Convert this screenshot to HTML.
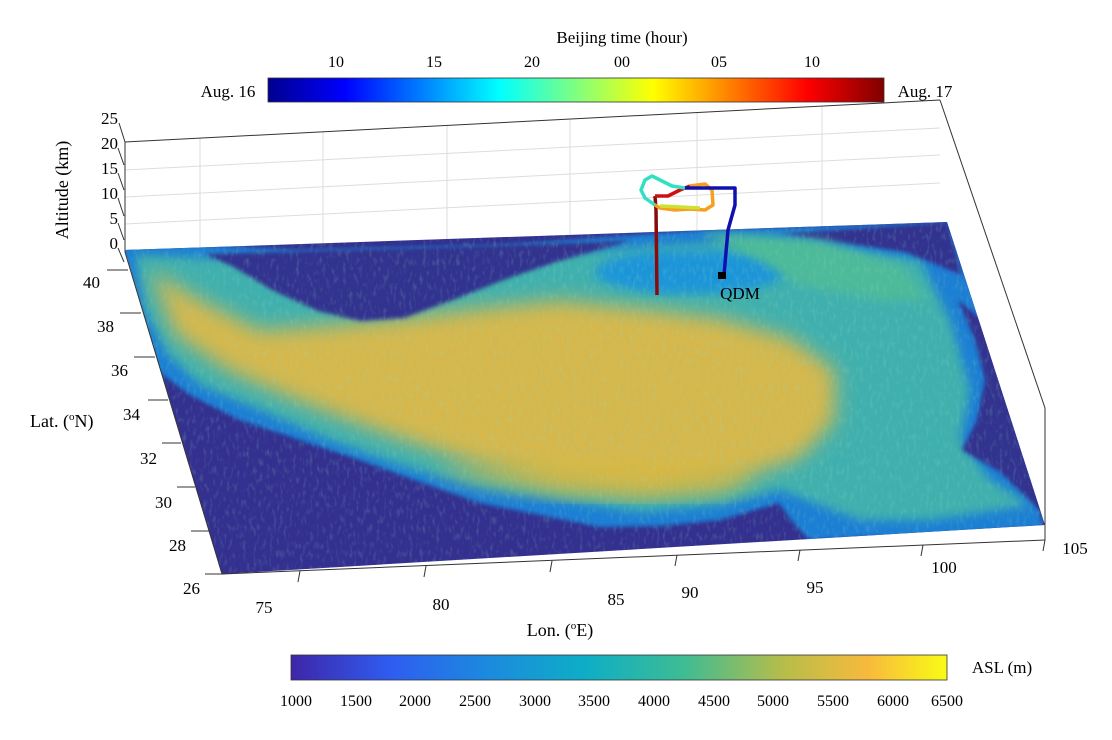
<!DOCTYPE html>
<html><head><meta charset="utf-8"><style>
body{margin:0;background:#fff;}
svg{display:block;font-family:"Liberation Serif",serif;}
</style></head><body>
<svg width="1112" height="740" viewBox="0 0 1112 740">
<defs>
<linearGradient id="jet" x1="0" x2="1">
<stop offset="0" stop-color="#00008f"/><stop offset="0.125" stop-color="#0000ff"/>
<stop offset="0.375" stop-color="#00ffff"/><stop offset="0.625" stop-color="#ffff00"/>
<stop offset="0.875" stop-color="#ff0000"/><stop offset="1" stop-color="#800000"/>
</linearGradient>
<linearGradient id="parula" x1="0" x2="1">
<stop offset="0" stop-color="#3e26a8"/><stop offset="0.15" stop-color="#2f5cf0"/>
<stop offset="0.3" stop-color="#1c8ade"/><stop offset="0.45" stop-color="#0eaec6"/>
<stop offset="0.6" stop-color="#3fbc93"/><stop offset="0.75" stop-color="#b6bd4a"/>
<stop offset="0.88" stop-color="#f8ba3d"/><stop offset="1" stop-color="#f9fb15"/>
</linearGradient>
<filter id="b0"><feGaussianBlur stdDeviation="2"/></filter>
<filter id="b1"><feGaussianBlur stdDeviation="5"/></filter>
<filter id="b2"><feGaussianBlur stdDeviation="10"/></filter>
<filter id="n"><feTurbulence type="fractalNoise" baseFrequency="0.3 0.12" numOctaves="2" result="t"/><feColorMatrix in="t" type="matrix" values="0 0 0 0 0.35  0 0 0 0 0.72  0 0 0 0 0.55  0 0 0 0.9 -0.45"/><feComposite in2="SourceGraphic" operator="in"/></filter>
<clipPath id="fl"><polygon points="125,250 947,222 1045,525 222,574"/></clipPath>
</defs>

<!-- top colorbar -->
<text x="622" y="43" font-size="17" text-anchor="middle">Beijing time (hour)</text>
<g font-size="16" text-anchor="middle">
<text x="336" y="67">10</text><text x="434" y="67">15</text><text x="532" y="67">20</text>
<text x="622" y="67">00</text><text x="719" y="67">05</text><text x="812" y="67">10</text></g>
<rect x="268" y="78" width="616" height="24" fill="url(#jet)" stroke="#333" stroke-width="0.8"/>
<text x="228" y="97" font-size="17" text-anchor="middle">Aug. 16</text>
<text x="925" y="97" font-size="17" text-anchor="middle">Aug. 17</text>

<!-- back wall grid -->
<g stroke="#ddd" stroke-width="1">
<line x1="125" y1="170" x2="940" y2="128"/><line x1="125" y1="197" x2="940" y2="155"/>
<line x1="125" y1="224" x2="940" y2="183"/>
<line x1="200" y1="138" x2="200" y2="250"/><line x1="323" y1="132" x2="323" y2="246"/>
<line x1="447" y1="126" x2="447" y2="242"/><line x1="570" y1="120" x2="570" y2="238"/>
<line x1="697" y1="113" x2="697" y2="234"/><line x1="822" y1="106" x2="822" y2="228"/>
</g>
<g stroke="#333" stroke-width="1" fill="none">
<line x1="125" y1="142" x2="940" y2="100"/>
<line x1="125" y1="142" x2="125" y2="252"/>
<line x1="940" y1="100" x2="1045" y2="408"/>
<line x1="1045" y1="408" x2="1045" y2="540"/>
</g>
<g font-size="17" text-anchor="end">
<text x="118" y="124">25</text><text x="118" y="149">20</text><text x="118" y="174">15</text>
<text x="118" y="199">10</text><text x="118" y="224">5</text><text x="118" y="249">0</text></g>
<g stroke="#333"><line x1="119" y1="123" x2="125" y2="142"/><line x1="118" y1="148" x2="124" y2="165"/>
<line x1="118" y1="173" x2="124" y2="190"/><line x1="118" y1="198" x2="124" y2="216"/><line x1="118" y1="223" x2="124" y2="240"/><line x1="118" y1="248" x2="124" y2="262"/></g>
<text transform="translate(68,190) rotate(-90)" font-size="18" text-anchor="middle">Altitude (km)</text>

<!-- floor & terrain -->
<g clip-path="url(#fl)">
<polygon points="100,240 960,215 1060,530 222,590" fill="#33308f"/>
<polygon filter="url(#b0)" fill="#1a7fd4" points="122,247 200,245 300,250 500,245 700,230 947,222 975,300 1000,380 1030,470 1043,527 1000,530 960,535 900,537 869,537 809,540 791,520 779,503 720,520 660,526 600,527 540,515 480,503 420,482 360,460 300,440 240,420 190,395 156,370 135,320"/>
<polygon filter="url(#b1)" fill="#40b0ae" points="135,255 300,262 600,250 760,240 920,260 950,320 970,390 960,440 990,480 1030,505 930,520 860,520 820,505 780,490 720,505 640,512 560,500 480,488 400,465 330,440 260,410 200,385 168,355 145,310"/>
<polygon filter="url(#b2)" fill="#d4b84e" points="150,270 200,300 260,330 330,325 400,318 480,308 560,300 640,308 720,318 790,338 835,370 835,420 800,458 740,478 650,490 560,482 470,462 380,432 300,402 230,372 175,335"/>
<polygon filter="url(#b2)" fill="#d8b840" opacity="0.7" points="430,470 560,495 640,500 720,495 760,475 700,460 560,460"/>
<polygon filter="url(#b0)" fill="#33308f" points="205,254 600,242 632,240 556,262 506,279 458,298 404,318 360,321 318,311 272,290 232,266"/>
<polygon filter="url(#b0)" fill="#33308f" points="780,234 947,222 962,275 905,252"/>
<polygon filter="url(#b0)" fill="#33308f" points="958,300 995,330 1015,400 1040,495 1045,515 1000,472 962,450 977,420 985,380 975,340"/>
<ellipse cx="690" cy="272" rx="95" ry="22" fill="#1f95d8" filter="url(#b1)"/>
<polygon filter="url(#b1)" fill="#4dba9a" points="700,232 820,240 900,265 930,300 880,300 800,285 760,260"/>
<rect x="100" y="215" width="960" height="375" filter="url(#n)" fill="#000" opacity="0.6"/>
</g>
<g stroke="#333" fill="none"><line x1="125" y1="252" x2="222" y2="574"/><line x1="222" y1="574" x2="1045" y2="540"/></g>
<g stroke="#333">
<line x1="300" y1="571" x2="298" y2="582"/><line x1="426" y1="566" x2="424" y2="577"/>
<line x1="552" y1="561" x2="550" y2="572"/><line x1="677" y1="555" x2="675" y2="566"/>
<line x1="800" y1="550" x2="798" y2="561"/><line x1="923" y1="545" x2="921" y2="556"/>
<line x1="1045" y1="540" x2="1043" y2="551"/></g>
<g stroke="#333">
<line x1="107" y1="270" x2="128" y2="270"/><line x1="120" y1="313" x2="141" y2="313"/>
<line x1="134" y1="357" x2="155" y2="357"/><line x1="148" y1="400" x2="168" y2="400"/>
<line x1="162" y1="443" x2="181" y2="443"/><line x1="177" y1="487" x2="195" y2="487"/>
<line x1="191" y1="531" x2="210" y2="531"/><line x1="205" y1="574" x2="225" y2="574"/></g>

<!-- trajectory -->
<g fill="none" stroke-width="3.5" stroke-linejoin="round">
<path d="M657,295 L656,210 L655,196" stroke="#8a0a0a"/>
<path d="M655,196 L668,196 L680,190 L690,186" stroke="#d01010"/>
<path d="M690,186 L705,184 L712,190 L713,205 L705,210 L690,209 L675,210 L660,208 L655,205" stroke="#f5a020"/>
<path d="M655,205 L645,198 L641,190 L645,180 L652,176 L660,180 L672,186 L685,188" stroke="#30e0c0"/>
<path d="M685,188 L735,188 L735,205 L728,230 L724,275" stroke="#1010b0"/>
</g>
<path d="M660,206 L700,208" stroke="#d0e030" stroke-width="3.5"/>
<rect x="718" y="272" width="8" height="7" fill="#000"/>
<text x="740" y="299" font-size="17" text-anchor="middle">QDM</text>

<g font-size="17" text-anchor="end">
<text x="100" y="288">40</text><text x="114" y="332">38</text><text x="128" y="376">36</text>
<text x="140" y="420">34</text><text x="157" y="464">32</text><text x="172" y="508">30</text>
<text x="186" y="551">28</text><text x="200" y="594">26</text></g>
<text x="30" y="427" font-size="18">Lat. (<tspan font-size="11" dy="-7">o</tspan><tspan dy="7">N)</tspan></text>
<g font-size="17" text-anchor="middle">
<text x="264" y="613">75</text><text x="441" y="610">80</text><text x="616" y="605">85</text>
<text x="690" y="598">90</text><text x="815" y="593">95</text><text x="944" y="573">100</text><text x="1075" y="554">105</text></g>
<text x="560" y="636" font-size="18" text-anchor="middle">Lon. (<tspan font-size="11" dy="-7">o</tspan><tspan dy="7">E)</tspan></text>

<rect x="291" y="655" width="656" height="25" fill="url(#parula)" stroke="#333" stroke-width="0.8"/>
<text x="1002" y="673" font-size="17" text-anchor="middle">ASL (m)</text>
<g font-size="16" text-anchor="middle">
<text x="296" y="706">1000</text><text x="356" y="706">1500</text><text x="415" y="706">2000</text>
<text x="475" y="706">2500</text><text x="535" y="706">3000</text><text x="594" y="706">3500</text>
<text x="654" y="706">4000</text><text x="714" y="706">4500</text><text x="773" y="706">5000</text>
<text x="833" y="706">5500</text><text x="893" y="706">6000</text><text x="947" y="706">6500</text></g>
</svg>
</body></html>
